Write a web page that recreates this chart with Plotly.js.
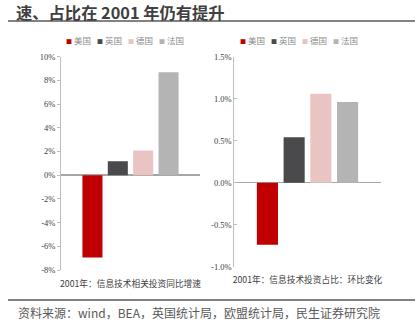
<!DOCTYPE html>
<html>
<head>
<meta charset="utf-8">
<script src="https://cdn.plot.ly/plotly-3.0.1.min.js"></script>
<style>html,body{margin:0;padding:0;background:#fff;}#chart{width:418px;height:324px;}</style>
</head>
<body>
<div id="chart"></div>
<script>
// ---- data ----
const countries = ['美国', '英国', '德国', '法国'];
const colors = ['#C00000', '#4A4A4C', '#EAC3C3', '#B4B4B4'];
const category = ['2001'];
const growthYoY = [-6.95, 1.18, 2.08, 8.68];      // 信息技术相关投资同比增速 (%)
const shareChange = [-0.74, 0.54, 1.06, 0.96];    // 信息技术投资占比环比变化 (pct)
const leftTickVals = [-8, -6, -4, -2, 0, 2, 4, 6, 8, 10];
const leftTickText = ['-8%', '-6%', '-4%', '-2%', '0%', '2%', '4%', '6%', '8%', '10%'];
const rightTickVals = [-1.0, -0.5, 0, 0.5, 1.0, 1.5];
const rightTickText = ['-1.0%', '-0.5%', '0.0%', '0.5%', '1.0%', '1.5%'];
const mainTitle = '速、占比在 2001 年仍有提升';
const leftTitle = '2001年：信息技术相关投资同比增速';
const rightTitle = '2001年：信息技术投资占比：环比变化';
const sourceText = '资料来源：wind，BEA，英国统计局，欧盟统计局，民生证券研究院';

const W = 418, H = 324;
const px = v => v / W;
const py = v => 1 - v / H;

const traces = [];
countries.forEach((c, i) => {
  traces.push({type: 'bar', x: category, y: [growthYoY[i]], name: c,
    marker: {color: colors[i]}, xaxis: 'x', yaxis: 'y', showlegend: false, hoverinfo: 'y'});
});
countries.forEach((c, i) => {
  traces.push({type: 'bar', x: category, y: [shareChange[i]], name: c,
    marker: {color: colors[i]}, xaxis: 'x2', yaxis: 'y2', showlegend: false, hoverinfo: 'y'});
});

const tickFont = {family: 'Liberation Serif, DejaVu Serif, serif', size: 8.5, color: '#404040'};
const cjk = 'Noto Sans CJK SC, sans-serif';

function yax(vals, text, range, anchor, ticks, domain) {
  return {
    range: range, tickvals: vals, ticktext: text, anchor: anchor, domain: domain,
    showgrid: false, zeroline: true, zerolinecolor: '#A6A6A6', zerolinewidth: 1.5,
    showline: true, linecolor: '#BFBFBF', linewidth: 1,
    ticks: ticks, ticklen: 3, tickcolor: '#BFBFBF', tickfont: tickFont, fixedrange: true
  };
}
function xax(domain, anchor, title, standoff) {
  return {
    domain: domain, anchor: anchor, showticklabels: false, ticks: '', showline: false,
    showgrid: false, zeroline: false, fixedrange: true,
    title: {text: title, font: {family: cjk, size: 8.7, color: '#404040'}, standoff: standoff}
  };
}

const annotations = [];
function legendAnn(startX, y) {
  countries.forEach((c, i) => {
    annotations.push({
      xref: 'paper', yref: 'paper', x: px(startX + i * 31.3), y: py(y),
      xanchor: 'left', yanchor: 'middle', showarrow: false,
      text: '<span style="color:' + colors[i] + ';font-size:6px">■</span> ' + c,
      font: {family: cjk, size: 8.5, color: '#8C8C8C'}
    });
  });
}
legendAnn(63.5, 40);
legendAnn(237.5, 40);
annotations.push({
  xref: 'paper', yref: 'paper', x: px(16), y: py(312), xanchor: 'left', yanchor: 'middle',
  showarrow: false, text: sourceText, font: {family: cjk, size: 12, color: '#595959'}
});

const layout = {
  width: W, height: H, margin: {l: 0, r: 0, t: 0, b: 0},
  paper_bgcolor: '#fff', plot_bgcolor: 'rgba(0,0,0,0)',
  title: {text: '<b>' + mainTitle + '</b>', x: px(16), xanchor: 'left', y: py(13), yanchor: 'middle',
    font: {family: cjk, size: 16.3, color: '#404040'}},
  barmode: 'group', bargap: 0.27, bargroupgap: 0.21,
  showlegend: false,
  xaxis: xax([px(61), px(200)], 'y', leftTitle, 10),
  yaxis: yax(leftTickVals, leftTickText, [-8, 10], 'x', 'outside', [py(270), py(56.7)]),
  xaxis2: xax([px(234.3), px(380.7)], 'y2', rightTitle, 10),
  yaxis2: Object.assign(yax(rightTickVals, rightTickText, [-1, 1.5], 'x2', 'inside', [py(266.7), py(56.7)]), {ticklen: 2.5}),
  shapes: [
    {type: 'line', xref: 'paper', yref: 'paper', x0: px(8), x1: px(415), y0: py(21), y1: py(21),
      line: {color: '#595959', width: 1.5}},
    {type: 'line', xref: 'paper', yref: 'paper', x0: px(8), x1: px(415), y0: py(300), y1: py(300),
      line: {color: '#595959', width: 1.5}}
  ],
  annotations: annotations
};

Plotly.newPlot('chart', traces, layout, {displayModeBar: false, staticPlot: true});
</script>
</body>
</html>
